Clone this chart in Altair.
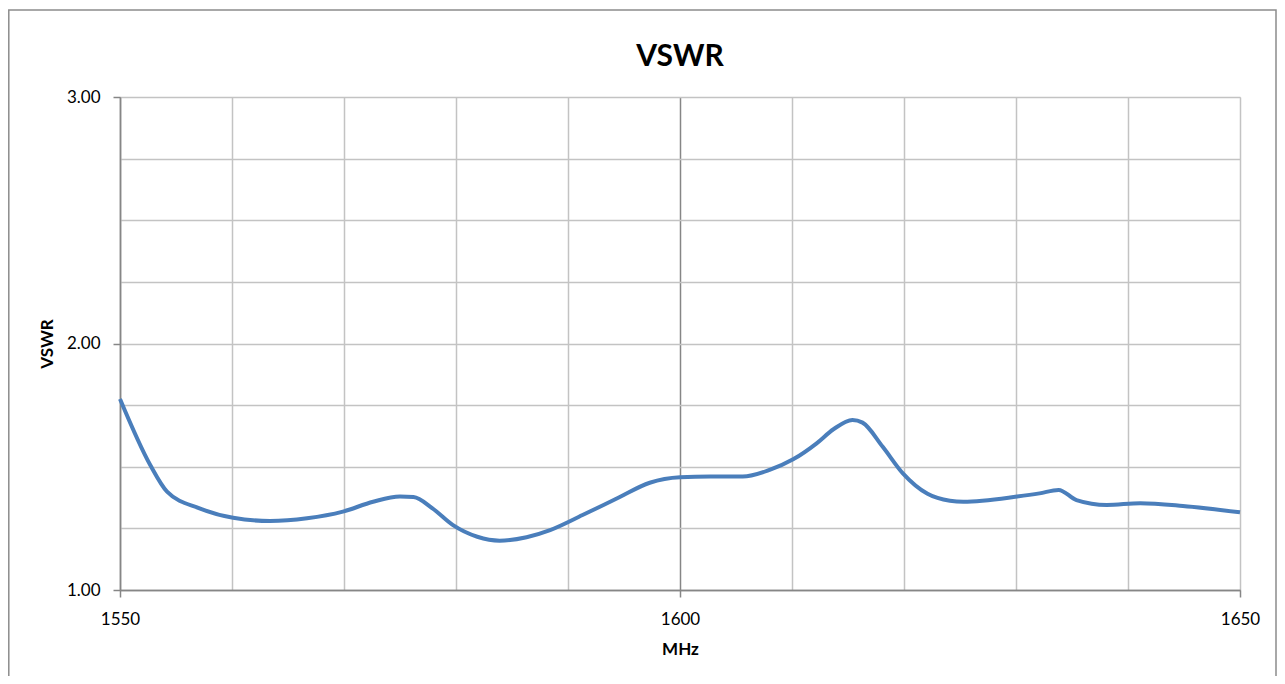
import altair as alt
import pandas as pd

# Frequency (MHz) and VSWR
freq = [1550.0, 1552.7, 1554.2, 1557.1, 1560.1, 1563.4, 1566.7, 1569.9, 1572.6, 1575.0,
        1576.2, 1577.9, 1579.7, 1581.9, 1583.9, 1586.3, 1588.4, 1591.3, 1594.4, 1597.3,
        1600.0, 1602.7, 1605.6, 1608.0, 1610.1, 1612.2, 1613.7, 1615.4, 1616.3, 1618.1,
        1619.9, 1622.1, 1624.1, 1625.3, 1630.1, 1632.1, 1633.8, 1635.4, 1638.1, 1641.1,
        1644.9, 1650.0]
vswr = [1.775, 1.507, 1.399, 1.331, 1.293, 1.280, 1.291, 1.318, 1.358, 1.379,
        1.377, 1.331, 1.264, 1.216, 1.200, 1.214, 1.243, 1.304, 1.372, 1.435,
        1.457, 1.460, 1.460, 1.487, 1.530, 1.595, 1.652, 1.690, 1.679, 1.581,
        1.473, 1.390, 1.362, 1.358, 1.379, 1.392, 1.406, 1.365, 1.345, 1.352,
        1.341, 1.315]

x_grid = [1550, 1560, 1570, 1580, 1590, 1600, 1610, 1620, 1630, 1640, 1650]
y_grid = [1.0, 1.25, 1.5, 1.75, 2.0, 2.25, 2.5, 2.75, 3.0]

df = pd.DataFrame({"MHz": freq, "VSWR": vswr})

FONT = "Lato"
GRID = "#c3c3c3"
AXIS = "#868686"

x_axis = alt.Axis(
    values=x_grid,
    format="d",
    labelExpr="datum.value % 50 == 0 ? datum.label : ''",
    title="MHz",
    titleFont=FONT, titleFontSize=17, titleFontWeight="bold", titleColor="#000000",
    titlePadding=14,
    labelFont=FONT, labelFontSize=17, labelColor="#000000", labelPadding=14,
    labelFlush=False, labelOverlap=False,
    tickSize=7, tickColor=AXIS, tickWidth=1.5,
    tickOpacity={"condition": {"test": "datum.value % 50 == 0", "value": 1}, "value": 0},
    domainColor=AXIS, domainWidth=1.5,
    grid=True,
    gridColor={"condition": {"test": "datum.value == 1600 || datum.value == 1550", "value": AXIS}, "value": GRID},
    gridWidth=1.5,
)

y_axis = alt.Axis(
    values=y_grid,
    labelExpr="datum.value % 1 == 0 ? format(datum.value, '.2f') : ''",
    title="VSWR",
    titleFont=FONT, titleFontSize=17, titleFontWeight="bold", titleColor="#000000",
    titlePadding=10,
    labelFont=FONT, labelFontSize=17, labelColor="#000000", labelPadding=13,
    labelFlush=False, labelOverlap=False,
    tickSize=7, tickColor=AXIS, tickWidth=1.5,
    tickOpacity={"condition": {"test": "datum.value % 1 == 0", "value": 1}, "value": 0},
    domainColor=AXIS, domainWidth=1.5,
    grid=True,
    gridColor={"condition": {"test": "datum.value == 1", "value": AXIS}, "value": GRID},
    gridWidth=1.5,
)

line = alt.Chart(df).mark_line(
    color="#4A7EBB", strokeWidth=4, interpolate="monotone"
).encode(
    x=alt.X("MHz:Q", scale=alt.Scale(domain=[1550, 1650], nice=False, zero=False), axis=x_axis),
    y=alt.Y("VSWR:Q", scale=alt.Scale(domain=[1, 3], nice=False, zero=False), axis=y_axis),
)

# outer chart-area frame
border = alt.Chart(alt.Data(values=[{"b": 1}])).mark_rect(
    filled=False, stroke="#8c8c8c", strokeWidth=1.5
).encode(
    x=alt.value(-111.2), x2=alt.value(1156),
    y=alt.value(-87), y2=alt.value(700),
)

chart = alt.layer(border, line).properties(
    width=1120,
    height=493,
    autosize=alt.AutoSizeParams(type="none"),
    padding={"left": 112, "top": 89, "right": 37, "bottom": 86},
    title=alt.Title("VSWR", fontSize=30, font=FONT, fontWeight="bold", color="#000000",
                    anchor="middle", frame="group", offset=0, dy=87, baseline="alphabetic"),
).configure_view(strokeWidth=0).configure(background="white")

chart.save("out.html", embed_options={"renderer": "svg", "actions": False})
